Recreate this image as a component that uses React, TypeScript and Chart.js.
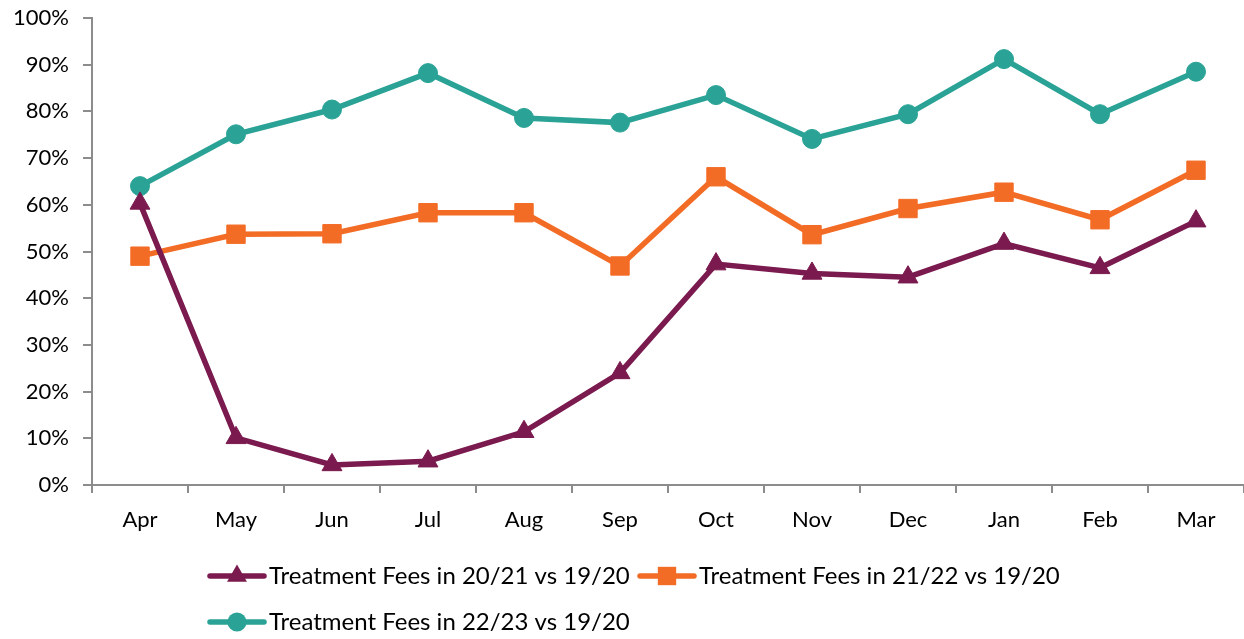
import React, { useEffect, useRef } from "react";
import { Chart, registerables } from "chart.js";

Chart.register(...registerables);

const categories = ["Apr", "May", "Jun", "Jul", "Aug", "Sep", "Oct", "Nov", "Dec", "Jan", "Feb", "Mar"];
const fees2021 = [60.3, 10.1, 4.3, 5.1, 11.4, 24.0, 47.3, 45.3, 44.5, 51.7, 46.5, 56.5];
const fees2122 = [49.0, 53.7, 53.8, 58.3, 58.3, 46.9, 66.0, 53.6, 59.2, 62.7, 56.8, 67.4];
const fees2223 = [64.0, 75.1, 80.4, 88.2, 78.6, 77.6, 83.5, 74.1, 79.4, 91.2, 79.4, 88.5];
const yTicks = [0, 10, 20, 30, 40, 50, 60, 70, 80, 90, 100];
const seriesLabels = [
  "Treatment Fees in 20/21 vs 19/20",
  "Treatment Fees in 21/22 vs 19/20",
  "Treatment Fees in 22/23 vs 19/20",
];

const PURPLE = "#7a1a4e";
const ORANGE = "#f36c26";
const TEAL = "#2aa396";
const AXIS = "#8c8c8c";
const FONT = "Lato, 'Liberation Sans', sans-serif";

function drawMarker(ctx: CanvasRenderingContext2D, style: string, x: number, y: number, r: number) {
  ctx.beginPath();
  if (style === "circle") {
    ctx.arc(x, y, r, 0, Math.PI * 2);
  } else if (style === "rect") {
    const s = Math.SQRT1_2 * r;
    ctx.rect(x - s, y - s, 2 * s, 2 * s);
  } else if (style === "triangle") {
    ctx.moveTo(x, y - r);
    ctx.lineTo(x + r * Math.sin(Math.PI / 3), y + r * 0.5);
    ctx.lineTo(x - r * Math.sin(Math.PI / 3), y + r * 0.5);
    ctx.closePath();
  }
  ctx.fill();
}

const legendPlugin = {
  id: "customLegend",
  afterDraw(chart: any) {
    const ctx = chart.ctx;
    const items = [
      { x: 210, y: 576, ds: 0 },
      { x: 640, y: 576, ds: 1 },
      { x: 210, y: 622, ds: 2 },
    ];
    ctx.save();
    items.forEach((it) => {
      const ds = chart.data.datasets[it.ds];
      ctx.strokeStyle = ds.borderColor;
      ctx.lineWidth = 5.5;
      ctx.lineCap = "round";
      ctx.beginPath();
      ctx.moveTo(it.x, it.y);
      ctx.lineTo(it.x + 54, it.y);
      ctx.stroke();
      ctx.fillStyle = ds.backgroundColor;
      drawMarker(ctx, ds.pointStyle, it.x + 27, it.y, ds.pointRadius);
      ctx.fillStyle = "#000";
      ctx.font = `24px ${FONT}`;
      ctx.textBaseline = "middle";
      ctx.textAlign = "left";
      ctx.fillText(ds.label, it.x + 59, it.y);
    });
    ctx.restore();
  },
};

export default function App() {
  const ref = useRef<HTMLCanvasElement | null>(null);
  useEffect(() => {
    document.body.style.margin = "0";
    const chart = new Chart(ref.current as HTMLCanvasElement, {
      type: "line",
      data: {
        labels: categories,
        datasets: [
          {
            label: seriesLabels[0],
            data: fees2021,
            borderColor: PURPLE,
            backgroundColor: PURPLE,
            borderWidth: 5.5,
            pointStyle: "triangle",
            pointRadius: 11.5,
            pointBorderWidth: 1,
          },
          {
            label: seriesLabels[1],
            data: fees2122,
            borderColor: ORANGE,
            backgroundColor: ORANGE,
            borderWidth: 5.5,
            pointStyle: "rect",
            pointRadius: 13,
            pointBorderWidth: 1,
          },
          {
            label: seriesLabels[2],
            data: fees2223,
            borderColor: TEAL,
            backgroundColor: TEAL,
            borderWidth: 5.5,
            pointStyle: "circle",
            pointRadius: 9.5,
            pointBorderWidth: 1,
          },
        ],
      },
      options: {
        animation: false,
        responsive: false,
        layout: { autoPadding: false, padding: { top: 18, bottom: 94, left: 0, right: 0 } },
        plugins: { legend: { display: false }, tooltip: { enabled: false } },
        scales: {
          x: {
            offset: true,
            afterFit: (s: any) => {
              s.height = 60;
              s.paddingLeft = 0;
              s.paddingRight = 0;
            },
            grid: {
              offset: true,
              drawOnChartArea: false,
              drawTicks: true,
              tickLength: 8,
              color: AXIS,
              lineWidth: 2,
            },
            border: { display: true, color: AXIS, width: 2 },
            ticks: { color: "#000", font: { family: FONT, size: 22 }, padding: 14, maxRotation: 0 },
          },
          y: {
            min: 0,
            max: 100,
            afterFit: (s: any) => {
              s.width = 92;
              s.paddingTop = 0;
              s.paddingBottom = 0;
            },
            afterBuildTicks: (s: any) => {
              s.ticks = yTicks.map((v) => ({ value: v }));
            },
            grid: {
              drawOnChartArea: false,
              drawTicks: true,
              tickLength: 9,
              color: AXIS,
              lineWidth: 2,
            },
            border: { display: true, color: AXIS, width: 2 },
            ticks: {
              color: "#000",
              font: { family: FONT, size: 22 },
              padding: 14,
              callback: (v: any) => `${v}%`,
            },
          },
        },
      },
      plugins: [legendPlugin],
    });
    return () => chart.destroy();
  }, []);
  return (
    <div style={{ width: 1244, height: 639 }}>
      <canvas ref={ref} width={1244} height={639} style={{ display: "block" }} />
    </div>
  );
}
